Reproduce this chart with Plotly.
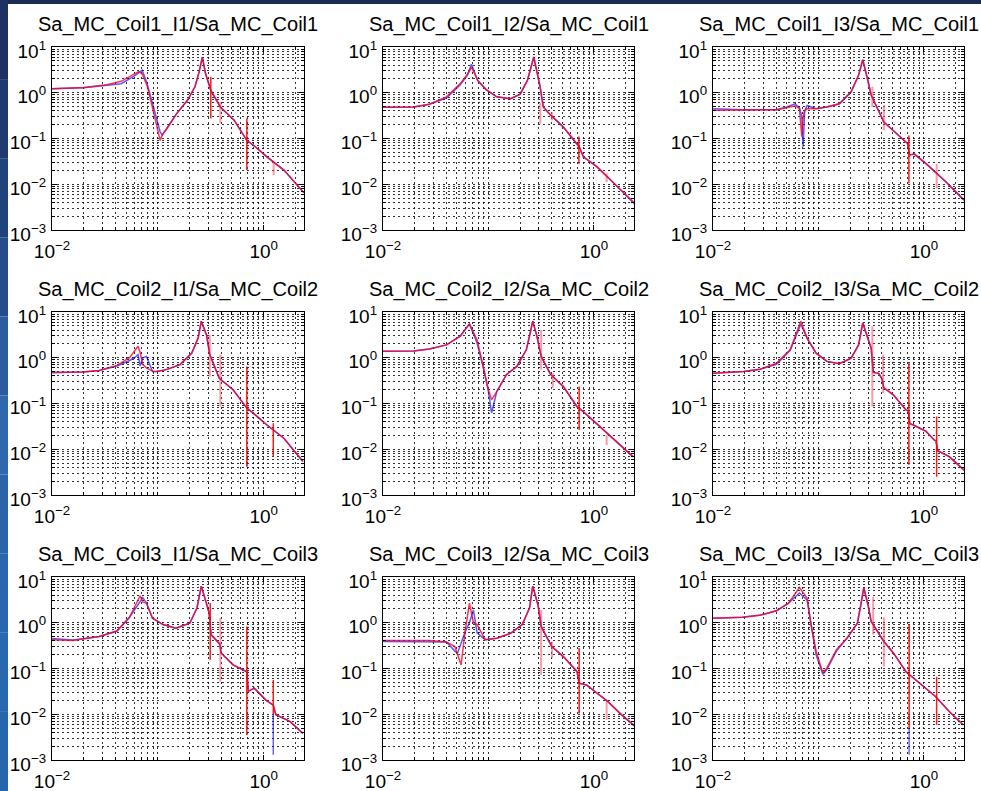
import plotly.graph_objects as go

# ---------------- data ----------------
# Coil1 / I1
freq_c1_i1 = [0.010, 0.020, 0.033, 0.045, 0.059, 0.066, 0.071, 0.079, 0.091, 0.100, 0.105, 0.110, 0.123, 0.151,
              0.191, 0.224, 0.245, 0.263, 0.282, 0.316, 0.389, 0.525, 0.692, 0.832, 1.072, 1.549, 2.40]
blue_c1_i1 = [1.23, 1.29, 1.45, 1.58, 2.29, 2.70, 3.10, 1.62, 0.45, 0.20, 0.14, 0.12, 0.18, 0.355,
              0.692, 1.35, 2.82, 6.03, 2.63, 1.12, 0.490, 0.251, 0.0912, 0.0661, 0.0398, 0.0204, 0.0065]
red_c1_i1 = [1.23, 1.30, 1.50, 1.78, 2.51, 2.90, 2.60, 1.45, 0.38, 0.16, 0.091, 0.12, 0.17, 0.355,
             0.692, 1.35, 2.82, 6.03, 2.63, 1.12, 0.490, 0.251, 0.0912, 0.0661, 0.0398, 0.0204, 0.0065]
red_spikes_c1_i1 = [(0.316, 2.24, 0.275), (0.692, 0.275, 0.0204)]
faint_spikes_c1_i1 = [(0.389, 0.63, 0.214), (1.24, 0.031, 0.0158)]
blue_spikes_c1_i1 = []

# Coil1 / I2
freq_c1_i2 = [0.010, 0.0195, 0.0275, 0.040, 0.054, 0.063, 0.069, 0.079, 0.095, 0.120, 0.162, 0.200, 0.234,
              0.251, 0.269, 0.295, 0.309, 0.331, 0.389, 0.513, 0.724, 0.794, 1.072, 1.549, 2.455]
blue_c1_i2 = [0.479, 0.490, 0.562, 0.76, 1.50, 2.40, 4.17, 1.86, 1.17, 0.813, 0.741, 0.933, 1.86,
              3.63, 6.03, 2.24, 1.35, 0.490, 0.324, 0.178, 0.0661, 0.0398, 0.0240, 0.0105, 0.0036]
red_c1_i2 = [0.479, 0.490, 0.562, 0.813, 1.58, 2.51, 3.60, 1.86, 1.17, 0.813, 0.741, 0.933, 1.86,
             3.63, 6.03, 2.24, 1.35, 0.490, 0.324, 0.178, 0.0661, 0.0398, 0.0240, 0.0105, 0.0038]
red_spikes_c1_i2 = [(0.72, 0.11, 0.028)]
faint_spikes_c1_i2 = [(0.31, 0.60, 0.21), (0.40, 0.38, 0.25), (1.32, 0.0174, 0.0112)]
blue_spikes_c1_i2 = []

# Coil1 / I3
freq_c1_i3 = [0.010, 0.0195, 0.040, 0.050, 0.060, 0.066, 0.0695, 0.0715, 0.074, 0.078, 0.095, 0.120, 0.158,
              0.204, 0.240, 0.263, 0.295, 0.316, 0.417, 0.513, 0.700, 0.730, 0.813, 1.047, 1.318, 1.622, 2.40]
blue_c1_i3 = [0.447, 0.427, 0.427, 0.490, 0.575, 0.47, 0.30, 0.066, 0.40, 0.525, 0.447, 0.490, 0.575,
              1.05, 2.40, 5.25, 1.86, 0.891, 0.229, 0.151, 0.0776, 0.0437, 0.0457, 0.0282, 0.0174, 0.0112, 0.0045]
red_c1_i3 = [0.417, 0.417, 0.427, 0.470, 0.520, 0.45, 0.11, 0.30, 0.40, 0.450, 0.447, 0.490, 0.575,
             1.05, 2.40, 5.25, 1.86, 0.891, 0.229, 0.151, 0.0776, 0.0437, 0.0457, 0.0282, 0.0174, 0.0112, 0.0045]
red_spikes_c1_i3 = [(0.72, 0.117, 0.0105)]
faint_spikes_c1_i3 = [(0.324, 1.35, 0.49), (0.417, 0.537, 0.151), (1.32, 0.028, 0.0081)]
blue_spikes_c1_i3 = []

# Coil2 / I1
freq_c2_i1 = [0.010, 0.0195, 0.028, 0.041, 0.054, 0.060, 0.065, 0.068, 0.072, 0.078, 0.089, 0.098, 0.120,
              0.162, 0.209, 0.240, 0.257, 0.288, 0.309, 0.380, 0.513, 0.692, 0.794, 1.072, 1.549, 2.344]
blue_c2_i1 = [0.468, 0.490, 0.525, 0.661, 0.87, 1.00, 1.17, 0.66, 1.00, 1.07, 0.501, 0.501, 0.550,
              0.708, 1.26, 2.69, 6.31, 3.16, 1.17, 0.355, 0.200, 0.0794, 0.0617, 0.0339, 0.0174, 0.0054]
red_c2_i1 = [0.479, 0.490, 0.525, 0.680, 1.00, 1.41, 1.78, 1.30, 0.708, 0.60, 0.510, 0.501, 0.550,
             0.708, 1.26, 2.69, 6.31, 3.16, 1.17, 0.355, 0.200, 0.0794, 0.0617, 0.0339, 0.0174, 0.0054]
red_spikes_c2_i1 = [(0.692, 0.646, 0.0042), (1.23, 0.037, 0.0069)]
faint_spikes_c2_i1 = [(0.309, 3.16, 0.389), (0.389, 1.17, 0.085)]
blue_spikes_c2_i1 = [(0.692, 0.0055, 0.0042)]

# Coil2 / I2
freq_c2_i2 = [0.010, 0.0195, 0.0275, 0.040, 0.054, 0.066, 0.078, 0.089, 0.100, 0.107, 0.120, 0.148, 0.186,
              0.229, 0.251, 0.263, 0.288, 0.316, 0.389, 0.513, 0.692, 0.794, 1.047, 1.514, 2.344]
blue_c2_i2 = [1.38, 1.41, 1.55, 1.91, 2.95, 5.50, 2.10, 0.646, 0.18, 0.062, 0.182, 0.427, 0.646,
              1.51, 3.80, 6.31, 2.95, 1.07, 0.427, 0.234, 0.0851, 0.0661, 0.0372, 0.0174, 0.0069]
red_c2_i2 = [1.38, 1.41, 1.55, 1.91, 2.95, 5.50, 2.45, 0.646, 0.20, 0.120, 0.182, 0.427, 0.646,
             1.51, 3.80, 6.31, 2.95, 1.07, 0.427, 0.234, 0.0851, 0.0661, 0.0372, 0.0174, 0.0069]
red_spikes_c2_i2 = [(0.724, 0.234, 0.0263)]
faint_spikes_c2_i2 = [(0.316, 4.07, 0.55), (0.407, 0.457, 0.219), (1.32, 0.0204, 0.0123)]
blue_spikes_c2_i2 = []

# Coil2 / I3
freq_c2_i3 = [0.010, 0.0195, 0.028, 0.040, 0.054, 0.068, 0.078, 0.095, 0.120, 0.158, 0.204, 0.240, 0.263,
              0.295, 0.316, 0.331, 0.372, 0.398, 0.417, 0.513, 0.676, 0.710, 0.735, 0.794, 1.047, 1.259,
              1.300, 1.349, 1.738, 2.40]
blue_c2_i3 = [0.457, 0.501, 0.562, 0.72, 1.45, 5.40, 2.69, 1.26, 0.832, 0.741, 0.977, 1.91, 5.75,
              2.45, 1.62, 0.479, 0.457, 0.355, 0.219, 0.155, 0.0724, 0.069, 0.036, 0.0339, 0.0245, 0.0158,
              0.0155, 0.0093, 0.0069, 0.0035]
red_c2_i3 = [0.457, 0.501, 0.562, 0.759, 1.51, 6.31, 2.69, 1.26, 0.832, 0.741, 0.977, 1.91, 5.75,
             2.45, 1.62, 0.479, 0.457, 0.355, 0.219, 0.155, 0.0724, 0.069, 0.036, 0.0339, 0.0245, 0.0158,
             0.0155, 0.0093, 0.0069, 0.0035]
red_spikes_c2_i3 = [(0.72, 0.76, 0.0046), (1.32, 0.052, 0.0025)]
faint_spikes_c2_i3 = [(0.324, 4.9, 0.085), (0.41, 1.17, 0.17)]
blue_spikes_c2_i3 = []

# Coil3 / I1
freq_c3_i1 = [0.010, 0.0158, 0.028, 0.041, 0.054, 0.068, 0.072, 0.078, 0.089, 0.112, 0.148, 0.200, 0.234,
              0.257, 0.288, 0.305, 0.318, 0.372, 0.385, 0.395, 0.513, 0.692, 0.715, 0.813, 1.047, 1.23,
              1.30, 1.778, 2.344]
blue_c3_i1 = [0.45, 0.42, 0.501, 0.661, 1.32, 2.82, 3.55, 2.69, 1.26, 0.912, 0.759, 0.977, 2.09,
              6.31, 2.69, 1.60, 0.55, 0.355, 0.34, 0.219, 0.120, 0.0851, 0.0316, 0.0372, 0.0204, 0.0158,
              0.0098, 0.0069, 0.0038]
red_c3_i1 = [0.427, 0.407, 0.501, 0.661, 1.32, 3.89, 2.82, 2.69, 1.26, 0.912, 0.759, 0.977, 2.09,
             6.31, 2.69, 1.60, 0.55, 0.355, 0.34, 0.219, 0.120, 0.0851, 0.0316, 0.0372, 0.0204, 0.0158,
             0.0098, 0.0069, 0.0038]
red_spikes_c3_i1 = [(0.312, 2.69, 0.155), (0.692, 0.83, 0.0035), (1.23, 0.056, 0.0098)]
faint_spikes_c3_i1 = [(0.389, 1.26, 0.052)]
blue_spikes_c3_i1 = [(1.23, 0.0098, 0.0013)]

# Coil3 / I2
freq_c3_i2 = [0.010, 0.0195, 0.0275, 0.040, 0.048, 0.051, 0.055, 0.060, 0.066, 0.072, 0.078, 0.093, 0.120,
              0.162, 0.209, 0.245, 0.263, 0.295, 0.316, 0.398, 0.513, 0.692, 0.724, 0.851, 1.072, 1.349,
              1.820, 2.455]
blue_c3_i2 = [0.39, 0.39, 0.39, 0.38, 0.24, 0.219, 0.355, 0.63, 1.00, 1.91, 0.60, 0.427, 0.457,
              0.589, 0.912, 2.09, 6.31, 2.45, 0.832, 0.302, 0.182, 0.0851, 0.0479, 0.0437, 0.0288, 0.0191,
              0.0098, 0.0054]
red_c3_i2 = [0.407, 0.407, 0.407, 0.380, 0.302, 0.20, 0.120, 0.63, 2.69, 1.00, 0.912, 0.427, 0.457,
             0.589, 0.912, 2.09, 6.31, 2.45, 0.832, 0.302, 0.182, 0.0851, 0.0479, 0.0437, 0.0288, 0.0191,
             0.0098, 0.0054]
red_spikes_c3_i2 = [(0.724, 0.282, 0.0105)]
faint_spikes_c3_i2 = [(0.316, 1.91, 0.0724), (0.40, 0.389, 0.17), (1.32, 0.0204, 0.0076)]
blue_spikes_c3_i2 = [(0.724, 0.012, 0.0105)]

# Coil3 / I3
freq_c3_i3 = [0.010, 0.019, 0.0275, 0.040, 0.052, 0.066, 0.078, 0.085, 0.095, 0.110, 0.120, 0.148, 0.186,
              0.234, 0.251, 0.269, 0.295, 0.316, 0.417, 0.513, 0.676, 0.794, 1.047, 1.288, 1.738, 2.344]
blue_c3_i3 = [1.26, 1.32, 1.45, 1.82, 2.69, 4.47, 3.16, 0.85, 0.20, 0.075, 0.095, 0.240, 0.457,
              0.977, 2.29, 5.75, 2.45, 1.07, 0.389, 0.219, 0.0851, 0.0617, 0.0372, 0.0245, 0.0115, 0.0059]
red_c3_i3 = [1.26, 1.32, 1.45, 1.82, 2.69, 5.89, 3.47, 0.912, 0.240, 0.0794, 0.102, 0.257, 0.457,
             0.977, 2.29, 5.75, 2.45, 1.07, 0.389, 0.219, 0.0851, 0.0617, 0.0372, 0.0245, 0.0115, 0.0059]
red_spikes_c3_i3 = [(0.724, 0.91, 0.005), (1.32, 0.066, 0.0059)]
faint_spikes_c3_i3 = [(0.33, 3.63, 0.55), (0.417, 1.32, 0.11)]
blue_spikes_c3_i3 = [(0.724, 0.005, 0.0013)]

titles = ["Sa_MC_Coil1_I1/Sa_MC_Coil1", "Sa_MC_Coil1_I2/Sa_MC_Coil1", "Sa_MC_Coil1_I3/Sa_MC_Coil1",
          "Sa_MC_Coil2_I1/Sa_MC_Coil2", "Sa_MC_Coil2_I2/Sa_MC_Coil2", "Sa_MC_Coil2_I3/Sa_MC_Coil2",
          "Sa_MC_Coil3_I1/Sa_MC_Coil3", "Sa_MC_Coil3_I2/Sa_MC_Coil3", "Sa_MC_Coil3_I3/Sa_MC_Coil3"]

x_major = [0.01, 1]
x_major_text = ["10<sup>\u22122</sup>", "10<sup>0</sup>"]
y_major = [0.001, 0.01, 0.1, 1, 10]
y_major_text = ["10<sup>\u22123</sup>", "10<sup>\u22122</sup>", "10<sup>\u22121</sup>",
                "10<sup>0</sup>", "10<sup>1</sup>"]
x_minor = [0.02, 0.03, 0.04, 0.05, 0.06, 0.07, 0.08, 0.09, 0.1,
           0.2, 0.3, 0.4, 0.5, 0.6, 0.7, 0.8, 0.9, 2]
y_minor = [k * d for d in (0.001, 0.01, 0.1, 1) for k in range(2, 10)]

panels = [
    (freq_c1_i1, blue_c1_i1, red_c1_i1, red_spikes_c1_i1, faint_spikes_c1_i1, blue_spikes_c1_i1),
    (freq_c1_i2, blue_c1_i2, red_c1_i2, red_spikes_c1_i2, faint_spikes_c1_i2, blue_spikes_c1_i2),
    (freq_c1_i3, blue_c1_i3, red_c1_i3, red_spikes_c1_i3, faint_spikes_c1_i3, blue_spikes_c1_i3),
    (freq_c2_i1, blue_c2_i1, red_c2_i1, red_spikes_c2_i1, faint_spikes_c2_i1, blue_spikes_c2_i1),
    (freq_c2_i2, blue_c2_i2, red_c2_i2, red_spikes_c2_i2, faint_spikes_c2_i2, blue_spikes_c2_i2),
    (freq_c2_i3, blue_c2_i3, red_c2_i3, red_spikes_c2_i3, faint_spikes_c2_i3, blue_spikes_c2_i3),
    (freq_c3_i1, blue_c3_i1, red_c3_i1, red_spikes_c3_i1, faint_spikes_c3_i1, blue_spikes_c3_i1),
    (freq_c3_i2, blue_c3_i2, red_c3_i2, red_spikes_c3_i2, faint_spikes_c3_i2, blue_spikes_c3_i2),
    (freq_c3_i3, blue_c3_i3, red_c3_i3, red_spikes_c3_i3, faint_spikes_c3_i3, blue_spikes_c3_i3),
]

# ---------------- layout geometry (pixels) ----------------
W, H = 981, 791
col_px = [(52, 304), (383, 634), (713, 964)]
row_px = [(47, 230), (312, 495), (577, 760)]
title_base_px = [33, 298, 563]

FONT = "Liberation Sans, Arial, Helvetica, sans-serif"
GRID_DASH = "2px,3px"
GRID_COLOR = "rgba(0,0,0,0.8)"


def spike_xy(spikes):
    xs, ys = [], []
    for f, hi, lo in spikes:
        xs += [f, f, None]
        ys += [hi, lo, None]
    return xs, ys


fig = go.Figure()
layout = {}
annotations = []

for i, (fq, bl, rd, rsp, fsp, bsp) in enumerate(panels):
    r, c = divmod(i, 3)
    n = i + 1
    xname = "x" if n == 1 else f"x{n}"
    yname = "y" if n == 1 else f"y{n}"
    x0, x1 = col_px[c]
    y0, y1 = row_px[r]

    fig.add_trace(go.Scatter(x=fq, y=bl, mode="lines", xaxis=xname, yaxis=yname,
                             line=dict(color="rgba(0,0,255,0.65)", width=1.5)))
    xs, ys = spike_xy(bsp)
    if xs:
        fig.add_trace(go.Scatter(x=xs, y=ys, mode="lines", xaxis=xname, yaxis=yname,
                                 line=dict(color="rgba(0,0,255,0.6)", width=1.5)))
    xs, ys = spike_xy(fsp)
    if xs:
        fig.add_trace(go.Scatter(x=xs, y=ys, mode="lines", xaxis=xname, yaxis=yname,
                                 line=dict(color="rgba(255,70,90,0.55)", width=2)))
    fig.add_trace(go.Scatter(x=fq, y=rd, mode="lines", xaxis=xname, yaxis=yname,
                             line=dict(color="rgba(255,0,40,0.8)", width=1.5)))
    xs, ys = spike_xy(rsp)
    if xs:
        fig.add_trace(go.Scatter(x=xs, y=ys, mode="lines", xaxis=xname, yaxis=yname,
                                 line=dict(color="rgba(255,0,0,0.9)", width=1.5)))

    common = dict(type="log", showline=True, linecolor="black", linewidth=1.3, mirror="ticks",
                  ticks="inside", ticklen=5, tickcolor="black", tickwidth=1, automargin=False,
                  showgrid=True, gridcolor=GRID_COLOR, griddash=GRID_DASH, gridwidth=1,
                  zeroline=False, tickmode="array",
                  tickfont=dict(family=FONT, size=19, color="black"))
    minor_common = dict(tickmode="array", ticks="inside", ticklen=3, tickcolor="black",
                        showgrid=True, gridcolor=GRID_COLOR, griddash=GRID_DASH, gridwidth=1)

    layout["xaxis" + ("" if n == 1 else str(n))] = dict(
        common, domain=[x0 / W, x1 / W], anchor=yname, range=[-2, 0.38],
        tickvals=x_major, ticktext=x_major_text, ticklabelstandoff=4,
        minor=dict(minor_common, tickvals=x_minor))
    layout["yaxis" + ("" if n == 1 else str(n))] = dict(
        common, domain=[1 - y1 / H, 1 - y0 / H], anchor=xname, range=[-3, 1],
        tickvals=y_major, ticktext=y_major_text, ticklabelstandoff=1, ticklabelshift=4,
        minor=dict(minor_common, tickvals=y_minor))

    annotations.append(dict(text=titles[i], xref="paper", yref="paper",
                            x=(x0 + x1) / 2 / W, y=1 - (title_base_px[r] + 5) / H,
                            xanchor="center", yanchor="bottom", showarrow=False,
                            font=dict(family=FONT, size=20, color="black")))

# slide background strips
shapes = [dict(type="rect", xref="paper", yref="paper", x0=0, x1=1, y0=1 - 4 / H, y1=1,
               fillcolor="#1c2b52", line=dict(width=0), layer="above")]
strip_colors = ["#1d3262", "#1f3a6f", "#21437c", "#244d8a", "#2a5c9e", "#2f68ad",
                "#2b64a9", "#2a66ad", "#2868ae", "#2766ad"]
nseg = len(strip_colors)
for k, col in enumerate(strip_colors):
    shapes.append(dict(type="rect", xref="paper", yref="paper", x0=0, x1=8 / W,
                       y0=1 - (k + 1) / nseg, y1=1 - k / nseg,
                       fillcolor=col, line=dict(width=0), layer="above"))

fig.update_layout(
    width=W, height=H, margin=dict(l=0, r=0, t=0, b=0, autoexpand=False),
    paper_bgcolor="white", plot_bgcolor="white", showlegend=False,
    annotations=annotations, shapes=shapes, **layout)

fig.write_html("out.html", config={"displayModeBar": False},
               post_script="document.body.style.margin='0';document.body.style.overflow='hidden';")
